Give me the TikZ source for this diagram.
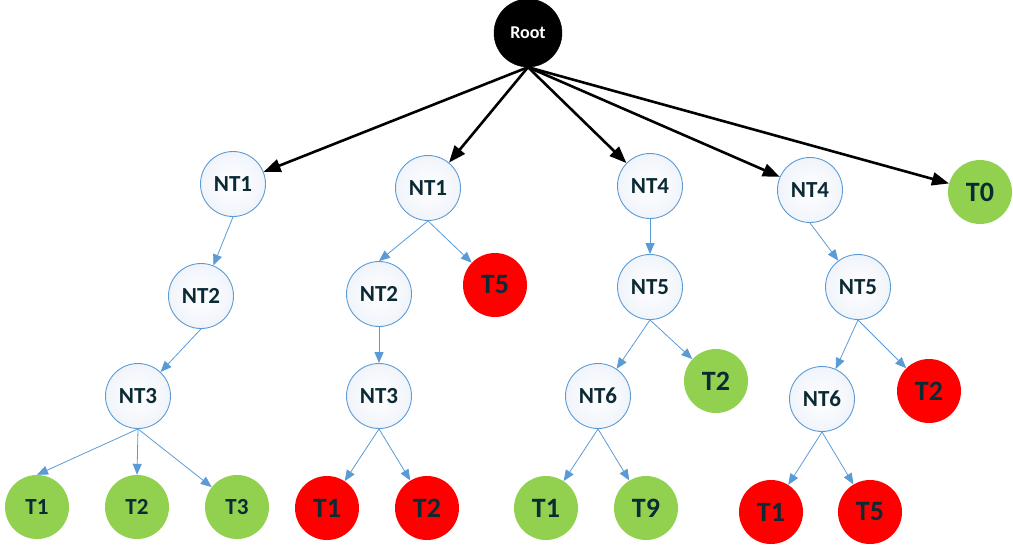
\documentclass[tikz,border=0pt]{standalone}
\usepackage{fontspec}
\setmainfont{Carlito}
\usetikzlibrary{arrows.meta}
\definecolor{txt}{RGB}{12,42,52}
\definecolor{nedge}{RGB}{91,155,213}
\definecolor{tgreen}{RGB}{146,208,80}
\definecolor{tred}{RGB}{255,0,0}
\definecolor{ntfill}{RGB}{240,244,250}
\tikzset{
  rootnode/.style={circle,fill=black,draw=black,minimum size=68pt,inner sep=0pt,text=white,font=\fontsize{18}{18}\selectfont\bfseries},
  ntnode/.style={circle,draw=nedge,line width=0.9pt,inner color=white,outer color=ntfill,minimum size=65pt,inner sep=0pt,text=txt,font=\fontsize{23}{23}\selectfont\bfseries},
  tnode/.style={circle,minimum size=64pt,inner sep=0pt,text=txt,font=\fontsize{28}{28}\selectfont\bfseries},
  tsmall/.style={tnode,font=\fontsize{23}{23}\selectfont\bfseries},
  green/.style={fill=tgreen},
  red/.style={fill=tred},
  redge/.style={line width=2.6pt,draw=black,-{Triangle[length=17pt,width=13pt]}},
  bedge/.style={line width=0.8pt,draw=nedge,-{Triangle[length=11pt,width=9pt]}}
}
\begin{document}
\begin{tikzpicture}[x=1pt,y=-1pt]
\useasboundingbox (0,0) rectangle (1013,547);
% root
\node[rootnode] (root) at (528,33) {Root};
% branch a
\node[ntnode] (a1) at (233,184) {NT1};
\node[ntnode] (a2) at (201,296) {NT2};
\node[ntnode] (a3) at (138,396) {NT3};
\node[tsmall,green] (aT1) at (37,507) {T1};
\node[tsmall,green] (aT2) at (137,507) {T2};
\node[tsmall,green] (aT3) at (237,507) {T3};
% branch b
\node[ntnode] (b1) at (428,188) {NT1};
\node[ntnode] (b2) at (379,294) {NT2};
\node[tnode,red] (bT5) at (495,285) {T5};
\node[ntnode] (b3) at (379,396) {NT3};
\node[tnode,red] (bT1) at (327,508) {T1};
\node[tnode,red] (bT2) at (427,508) {T2};
% branch c
\node[ntnode] (c1) at (650,186) {NT4};
\node[ntnode] (c2) at (650,287) {NT5};
\node[tnode,green] (cT2) at (716,381) {T2};
\node[ntnode] (c3) at (598,396) {NT6};
\node[tnode,green] (cT1) at (546,508) {T1};
\node[tnode,green] (cT9) at (646,508) {T9};
% branch d
\node[ntnode] (d1) at (810,190) {NT4};
\node[ntnode] (d2) at (858,287) {NT5};
\node[tnode,red] (dT2) at (929,391) {T2};
\node[ntnode] (d3) at (822,399) {NT6};
\node[tnode,red] (dT1) at (771,512) {T1};
\node[tnode,red] (dT5) at (870,512) {T5};
% T0
\node[tnode,green] (T0) at (980,192) {T0};
% black edges
\foreach \c in {a1,b1,c1,d1,T0}
  \draw[redge] (root.south) -- (\c);
% blue edges
\draw[bedge] (a1.south) -- (a2);
\draw[bedge] (a2.south) -- (a3);
\draw[bedge] (a3.south) -- (aT1.north);
\draw[bedge] (a3.south) -- (aT2.north);
\draw[bedge] (a3.south) -- (aT3);
\draw[bedge] (b1.south) -- (b2.north);
\draw[bedge] (b1.south) -- (bT5);
\draw[bedge] (b2.south) -- (b3.north);
\draw[bedge] (b3.south) -- (bT1);
\draw[bedge] (b3.south) -- (bT2);
\draw[bedge] (c1.south) -- (c2.north);
\draw[bedge] (c2.south) -- (c3);
\draw[bedge] (c2.south) -- (cT2);
\draw[bedge] (c3.south) -- (cT1);
\draw[bedge] (c3.south) -- (cT9);
\draw[bedge] (d1.south) -- (d2);
\draw[bedge] (d2.south) -- (d3);
\draw[bedge] (d2.south) -- (dT2);
\draw[bedge] (d3.south) -- (dT1);
\draw[bedge] (d3.south) -- (dT5);
\end{tikzpicture}
\end{document}
